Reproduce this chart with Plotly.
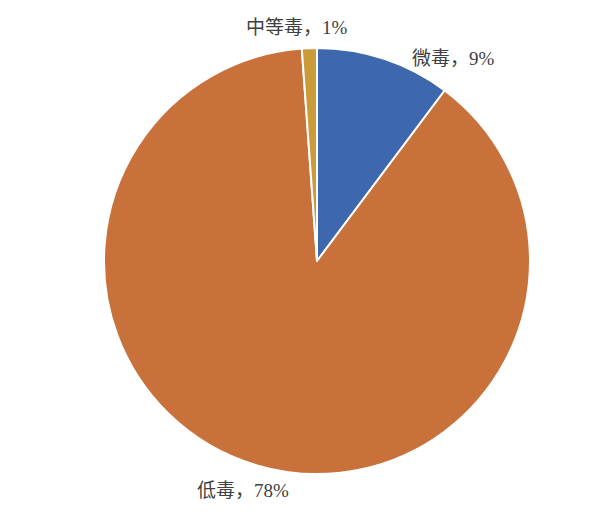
import plotly.graph_objects as go

# ---------------------------------------------------------------------------
# Data
# ---------------------------------------------------------------------------
CATEGORIES = ["微毒", "低毒", "中等毒"]
VALUES = [9, 78, 1]
LABEL_TEXT = ["微毒，9%", "低毒，78%", "中等毒，1%"]
COLORS = ["#3E68AE", "#C9713B", "#CB9B3A"]

W, H = 612, 514
OFF = 8  # page body margin
FONT = "Liberation Serif, Times New Roman, Noto Sans CJK SC, serif"

# pie centre / radius in page pixels
CX, CY, R = 317 - OFF, 261 - OFF, 213

fig = go.Figure(go.Pie(
    labels=CATEGORIES,
    values=VALUES,
    marker=dict(colors=COLORS, line=dict(color="white", width=2)),
    sort=False,
    direction="clockwise",
    rotation=0,
    textinfo="none",
    hoverinfo="label+percent",
    domain=dict(x=[(CX - R) / W, (CX + R) / W],
                y=[1 - (CY + R) / H, 1 - (CY - R) / H]),
    showlegend=False,
))

# label positions (page pixels)
label_pos = [(453, 59), (243, 490), (297, 28)]
for txt, (px, py) in zip(LABEL_TEXT, label_pos):
    fig.add_annotation(
        text=txt, x=(px - OFF) / W, y=1 - (py - OFF) / H,
        xref="paper", yref="paper",
        showarrow=False, xanchor="center", yanchor="middle",
        font=dict(family=FONT, size=19, color="#404040"),
    )

fig.update_layout(
    width=W, height=H,
    margin=dict(l=0, r=0, t=0, b=0),
    paper_bgcolor="white",
    plot_bgcolor="white",
)

fig.write_html("out.html")
